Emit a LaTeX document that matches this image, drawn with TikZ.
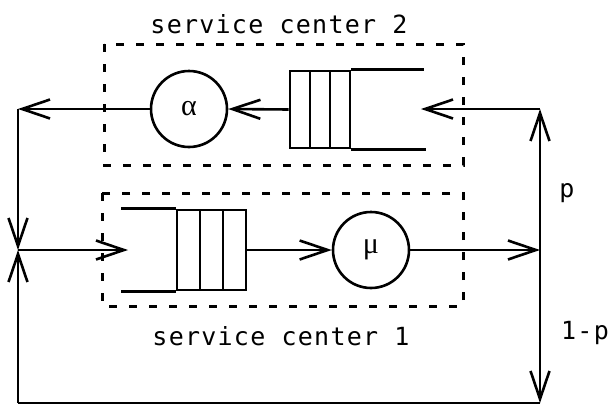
\documentclass[tikz,border=0pt]{standalone}
\usepackage{fontspec}
\usetikzlibrary{arrows.meta}
\newfontfamily\typefont[LetterSpace=5]{DejaVu Sans Mono}
\newfontfamily\ratefont{Liberation Serif}
\tikzset{
  flow/.style={-{Straight Barb[length=28pt,width=19pt,line width=2.6pt]}, line width=2.6pt},
  server/.style={circle, draw, line width=2.6pt, minimum size=76pt, inner sep=0pt,
    font=\ratefont\fontsize{30}{30}\selectfont},
  queuebox/.style={draw, line width=2.6pt, inner sep=0pt},
  centerbox/.style={line width=3pt, dash pattern=on 8pt off 12pt},
  sctext/.style={font=\typefont\fontsize{25}{25}\selectfont, inner sep=0pt, anchor=base},
}
\begin{document}
\begin{tikzpicture}[x=1pt, y=-1pt, line width=2.6pt]
  \useasboundingbox (0,0) rectangle (609,407);
  % service center 2
  \draw[centerbox] (104,44) rectangle (463,165);
  \node[sctext] (sc2) at (279,33) {service center 2};
  \node[server] (alpha) at (189,109) {α};
  \node[queuebox, minimum width=60pt, minimum height=77pt] (q2) at (320,109.5) {};
  \foreach \x in {310,330} \draw (\x,71) -- (\x,148);
  \draw (q2.north east) -- ++(73,0);
  \draw (q2.south east) -- ++(75,0);
  % service center 1
  \draw[centerbox] (102,193) rectangle (463,306);
  \node[sctext] (sc1) at (281,345) {service center 1};
  \node[queuebox, minimum width=69pt, minimum height=80pt] (q1) at (211.5,250) {};
  \foreach \x in {200,223} \draw (\x,210) -- (\x,290);
  \draw (q1.north west) -- ++(-55,0);
  \draw (q1.south west) -- ++(-55,0);
  \node[server] (mu) at (371,250) {μ};
  % routing points
  \coordinate (tl) at (18,109);
  \coordinate (ml) at (18,250);
  \coordinate (bl) at (18,403);
  \coordinate (tr) at (540,109);
  \coordinate (mr) at (540,250);
  \coordinate (br) at (540,403);
  \coordinate (in2) at (421,109);
  \coordinate (in1) at (128,250);
  % connectors
  \draw[flow] (q2.west) -- (alpha.east);
  \draw[flow] (alpha.west) -- (tl);
  \draw[flow] (tl) -- (ml);
  \draw[flow] (ml) -- (in1);
  \draw[flow] (q1.east) -- (mu.west);
  \draw[flow] (mu.east) -- (mr);
  \draw[flow] (mr) -- (tr);
  \draw[flow] (tr) -- (in2);
  \draw[flow] (mr) -- (br);
  \draw (br) -- (bl);
  \draw[flow] (bl) -- (ml);
  % branch probabilities
  \node[sctext] (p) at (567,197) {p};
  \node[sctext] (notp) at (585,339) {1-p};
\end{tikzpicture}
\end{document}
